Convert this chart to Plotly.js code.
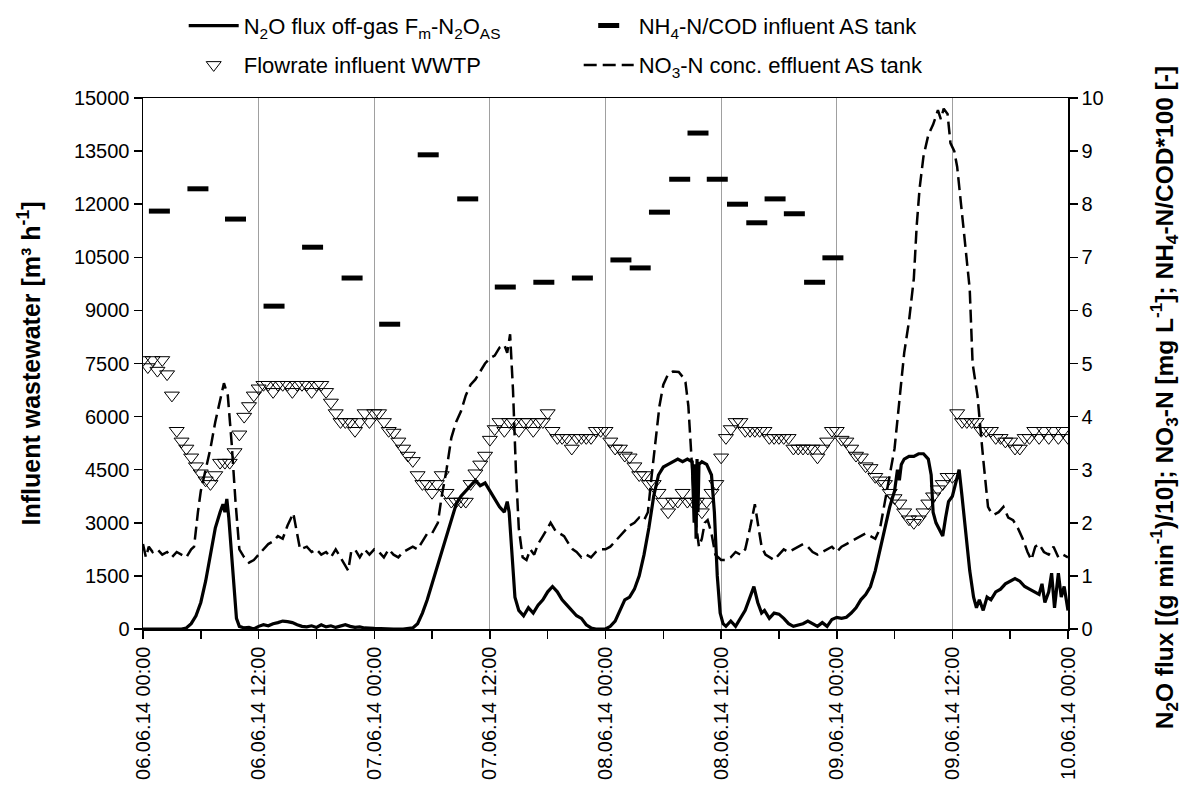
<!DOCTYPE html>
<html>
<head>
<meta charset="utf-8">
<script src="https://cdn.plot.ly/plotly-3.0.1.min.js"></script>
<style>html,body{margin:0;padding:0;background:#fff;}#chart{width:1184px;height:790px;}</style>
</head>
<body>
<div id="chart"></div>
<script>
// ---- x tick labels (hours since 06.06.14 00:00) ----
var tickHours = [0, 12, 24, 36, 48, 60, 72, 84, 96];
var tickLabels = ["06.06.14 00:00", "06.06.14 12:00", "07.06.14 00:00", "07.06.14 12:00",
  "08.06.14 00:00", "08.06.14 12:00", "09.06.14 00:00", "09.06.14 12:00", "10.06.14 00:00"];
var leftTicks = [0, 1500, 3000, 4500, 6000, 7500, 9000, 10500, 12000, 13500, 15000];
var leftTickLabels = ["0", "1500", "3000", "4500", "6000", "7500", "9000", "10500", "12000", "13500", "15000"];
var rightTicks = [0, 1, 2, 3, 4, 5, 6, 7, 8, 9, 10];

// ---- Flowrate influent WWTP [m3/h], one value every 30 min from 06.06.14 00:00 ----
var flowStepHours = 0.5;
var flowrate = [
  7600, 7400, 7600, 7300, 7600, 7200,
  6600, 5600,
  5300, 5100, 4850, 4600, 4400, 4200, 4100,
  4350, 4700, 4700, 4700, 5000, 5500, 6000, 6300, 6600, 6800,
  6900, 6900, 6700, 6900, 6900, 6900, 6700, 6900, 6900, 6900, 6700, 6900, 6900,
  6700, 6400, 6100, 5850, 5850, 5850, 5600, 5850, 6100, 5850, 6100, 6100, 5850, 5600,
  5550, 5300, 5100, 4900, 4750, 4350, 4100, 4100, 3850, 4100, 4350, 3850, 3600, 3600, 3600, 3600,
  4100, 4400, 4650, 4900, 5350, 5650, 5850, 5600, 5850, 5850, 5600, 5850, 5850, 5600, 5850, 5850, 6100,
  5600, 5400, 5400, 5400, 5100, 5400, 5400, 5400, 5400, 5600, 5600, 5600,
  5300, 5100, 5100, 4900, 4850, 4600, 4350, 4350, 4100, 4100, 3850, 3600,
  3300, 3600, 3600, 3850, 3600, 3600, 3600, 3300, 3600, 3850, 4100,
  4850, 5400, 5650, 5850, 5850, 5600, 5600, 5600, 5600, 5600, 5400, 5400, 5400,
  5400, 5400, 5100, 5100, 5100, 5100, 5100, 4850, 5100, 5300, 5600, 5600,
  5350, 5300, 5100, 4900, 4850, 4600, 4550, 4300, 4200, 4100, 3850, 3700,
  3550, 3300, 3100, 3000, 3100, 3300, 3550, 3750, 3950, 4100, 4300, 4300,
  6100, 5850, 5850, 5850, 5850, 5600, 5600, 5600, 5400, 5400, 5300, 5300,
  5100, 5100, 5400, 5400, 5600, 5400, 5600, 5400, 5600, 5400, 5600, 5400
];

// ---- N2O flux off-gas [(g/min)/10] ----
var n2oHours = [0,4,4.5,5,5.5,6,6.5,7,7.5,8,8.3,8.5,8.7,8.9,9.1,9.3,9.5,9.7,10,10.5,11,11.5,12,12.5,13,13.5,14,14.5,15,15.5,16,16.5,17,17.5,18,18.5,19,19.5,20,20.5,21,21.5,22,22.5,23,24,25,26,27,28,28.5,29,29.5,30,30.5,31,31.5,32,32.5,33,33.5,34,34.5,35,35.5,36,36.5,37,37.5,37.8,38,38.3,38.6,39,39.5,40,40.5,41,41.5,42,42.5,43,43.5,44,44.5,45,45.5,46,46.5,47,48,48.5,49,49.5,50,50.5,51,51.5,52,52.5,53,53.5,54,54.5,55,55.5,56,56.5,57,57.2,57.3,57.4,57.5,57.6,57.7,58,58.5,59,59.3,59.6,59.9,60.2,60.5,61,61.5,62,62.5,63,63.4,63.8,64.2,64.5,65,65.5,66,66.5,67,67.5,68,68.5,69,69.5,70,70.5,71,71.5,72,72.5,73,73.5,74,74.5,75,75.5,76,76.5,77,77.5,78,78.3,78.5,78.7,79,79.5,80,80.5,81,81.5,81.8,82,82.3,82.6,83,83.3,83.6,84,84.4,84.7,85,85.4,85.8,86.2,86.5,86.8,87.2,87.6,88,88.5,89,89.5,90,90.5,91,91.5,92,92.5,93,93.3,93.6,94,94.3,94.6,95,95.3,95.6,96];
var n2oFlux = [0,0,0.02,0.1,0.25,0.5,0.9,1.4,1.9,2.2,2.35,2.2,2.45,2.1,1.6,1.0,0.5,0.2,0.05,0.02,0.03,0.0,0.05,0.08,0.06,0.1,0.12,0.15,0.14,0.12,0.08,0.05,0.04,0.06,0.03,0.08,0.04,0.06,0.03,0.05,0.08,0.05,0.03,0.04,0.02,0.01,0,0,0,0.02,0.1,0.3,0.55,0.85,1.15,1.45,1.8,2.1,2.35,2.5,2.6,2.7,2.8,2.7,2.75,2.6,2.45,2.3,2.2,2.4,2.2,1.4,0.6,0.35,0.25,0.4,0.3,0.45,0.55,0.7,0.8,0.7,0.55,0.45,0.35,0.25,0.2,0.08,0.02,0,0,0.05,0.15,0.35,0.55,0.6,0.75,1.0,1.4,1.9,2.5,2.9,3.05,3.1,3.15,3.2,3.15,3.2,3.15,2.0,3.1,1.7,3.2,2.2,3.1,3.15,3.1,2.9,2.2,1.0,0.3,0.1,0.05,0.15,0.05,0.2,0.35,0.6,0.8,0.5,0.3,0.35,0.2,0.3,0.28,0.2,0.1,0.05,0.08,0.1,0.15,0.1,0.05,0.12,0.05,0.18,0.22,0.2,0.22,0.3,0.4,0.55,0.65,0.8,1.1,1.5,1.9,2.3,2.6,3.0,2.8,3.1,3.2,3.25,3.25,3.3,3.3,3.2,2.9,2.2,2.0,1.9,1.75,2.1,2.4,2.5,2.8,3.0,2.5,1.8,1.1,0.6,0.4,0.55,0.35,0.6,0.55,0.7,0.75,0.85,0.9,0.95,0.9,0.8,0.75,0.7,0.65,0.85,0.5,0.7,1.05,0.4,1.05,0.6,0.8,0.35];

// ---- NO3-N conc. effluent AS tank [mg/L] ----
var no3Hours = [0,0.3,0.6,1,1.5,2,2.5,3,3.5,4,4.5,5,5.3,5.7,6,6.5,7,7.5,8,8.4,8.8,9.2,9.6,10,10.5,11,11.5,12,12.5,13,13.5,14,14.5,15,15.6,16,16.3,17,17.5,18,18.5,19,19.5,20,20.5,21,21.3,21.6,22,22.5,23,23.5,24,24.5,25,25.5,26,26.5,27,27.5,28,28.5,29,29.5,30,30.6,31,31.5,32,32.5,33,33.5,34,34.5,35,35.5,36,36.5,37,37.5,37.8,38.1,38.4,38.7,39,39.4,39.8,40.2,40.6,41,41.5,42,42.3,42.8,43.2,43.7,44.2,44.6,45,45.5,46,46.5,47,47.5,48,48.5,49,49.5,50,50.5,51,51.5,52,52.4,52.8,53.2,53.6,54,54.5,55,55.6,56,56.3,56.6,56.9,57.3,57.7,58,58.3,58.6,59,59.4,60,60.5,61,61.5,62,62.5,63,63.5,63.8,64.2,64.6,65,65.5,66,66.5,67,67.5,68,68.5,69,69.5,70,70.5,71,71.5,72,72.5,73,73.5,74,74.5,75,75.5,76,76.5,77,77.5,78,78.5,79,79.5,80,80.3,80.6,81,81.5,82,82.5,82.8,83.1,83.5,83.8,84.2,84.5,85.1,85.8,86.1,86.6,87.2,87.7,88,88.3,88.8,89.3,89.8,90.3,90.8,91.3,91.8,92.2,92.6,93,93.5,94,94.5,95,95.5,96];
var no3Conc = [1.6,1.35,1.55,1.45,1.5,1.4,1.45,1.35,1.45,1.4,1.35,1.5,1.55,2.2,2.6,3.0,3.4,3.9,4.3,4.63,4.4,3.5,2.4,1.5,1.35,1.25,1.3,1.4,1.5,1.6,1.65,1.75,1.7,1.95,2.18,1.8,1.5,1.55,1.45,1.5,1.4,1.45,1.35,1.5,1.35,1.2,1.1,1.45,1.5,1.35,1.5,1.4,1.5,1.45,1.35,1.5,1.4,1.35,1.45,1.5,1.55,1.5,1.65,1.8,1.8,2.0,2.5,3.0,3.6,3.9,4.1,4.4,4.6,4.7,4.85,5.0,5.1,5.15,5.3,5.35,5.2,5.55,4.5,3.0,1.9,1.35,1.3,1.5,1.4,1.6,1.75,1.9,2.0,1.85,1.8,1.75,1.6,1.5,1.45,1.35,1.4,1.35,1.45,1.5,1.5,1.55,1.65,1.75,1.85,1.95,2.0,2.1,2.05,2.2,2.9,3.6,4.2,4.6,4.8,4.85,4.84,4.75,4.65,4.2,3.2,2.1,1.55,1.7,2.0,2.05,1.8,1.4,1.3,1.3,1.35,1.45,1.4,1.5,1.9,2.35,2.0,1.55,1.4,1.35,1.3,1.4,1.5,1.45,1.5,1.55,1.6,1.55,1.45,1.4,1.45,1.5,1.55,1.45,1.55,1.6,1.65,1.7,1.75,1.8,1.75,1.7,1.9,2.4,2.9,3.4,4.3,5.2,5.8,6.6,7.6,8.3,8.9,9.3,9.5,9.77,9.6,9.8,9.7,9.15,9.0,8.7,7.65,6.4,5.0,4.4,3.2,2.3,2.2,2.15,2.2,2.3,2.1,2.05,1.9,1.7,1.45,1.3,1.55,1.6,1.45,1.4,1.55,1.35,1.4,1.35];

// ---- NH4-N/COD influent AS tank (*100) ----
var nh4Hours = [1.7,5.7,9.6,13.6,17.6,21.7,25.6,29.6,33.7,37.6,41.6,45.6,49.6,51.6,53.6,55.7,57.6,59.6,61.7,63.7,65.6,67.6,69.7,71.6];
var nh4Cod = [7.87,8.29,7.72,6.08,7.19,6.61,5.74,8.93,8.10,6.44,6.53,6.61,6.95,6.80,7.85,8.47,9.34,8.47,8.0,7.65,8.1,7.82,6.53,6.99];

var flowHours = flowrate.map(function(v, i){ return i * flowStepHours; });

var FONT = "Liberation Sans, Arial, sans-serif";

var traces = [
  {x: n2oHours, y: n2oFlux, yaxis: 'y2', type: 'scatter', mode: 'lines',
   name: 'N<sub>2</sub>O flux off-gas F<sub>m</sub>-N<sub>2</sub>O<sub>AS</sub>',
   line: {color: '#000', width: 3.2}, legend: 'legend'},
  {x: nh4Hours, y: nh4Cod, yaxis: 'y2', type: 'scatter', mode: 'markers',
   name: 'NH<sub>4</sub>-N/COD influent AS tank',
   marker: {symbol: 'line-ew', size: 15, color: '#000', line: {color: '#000', width: 5}}, legend: 'legend'},
  {x: flowHours, y: flowrate, yaxis: 'y', type: 'scatter', mode: 'markers',
   name: 'Flowrate influent WWTP',
   marker: {symbol: 'triangle-down-open', size: 13, color: '#000', line: {color: '#000', width: 1}}, legend: 'legend2'},
  {x: no3Hours, y: no3Conc, yaxis: 'y2', type: 'scatter', mode: 'lines',
   name: 'NO<sub>3</sub>-N conc. effluent AS tank',
   line: {color: '#000', width: 2.5, dash: '13px,6px'}, legend: 'legend2'}
];

var legendCommon = {orientation: 'h', xanchor: 'left', yanchor: 'middle',
  entrywidth: 330, itemwidth: 50, font: {family: FONT, size: 22, color: '#000'}, bgcolor: 'rgba(0,0,0,0)'};

var layout = {
  width: 1184, height: 790,
  margin: {l: 143, r: 116, t: 98, b: 161, autoexpand: false},
  paper_bgcolor: '#fff', plot_bgcolor: '#fff',
  font: {family: FONT, color: '#000', size: 20},
  showlegend: true,
  legend: Object.assign({}, legendCommon, {x: 0.044, y: 1.136}),
  legend2: Object.assign({}, legendCommon, {x: 0.044, y: 1.062}),
  xaxis: {
    range: [0, 96], tickmode: 'array', tickvals: tickHours, ticktext: tickLabels,
    tickangle: -90, tickfont: {family: FONT, size: 20, color: '#000'},
    ticks: 'outside', ticklen: 8, tickwidth: 1.5, tickcolor: '#000',
    minor: {dtick: 6, tick0: 0, ticks: 'outside', ticklen: 8, tickwidth: 1.5, tickcolor: '#000', showgrid: false},
    showgrid: true, gridcolor: '#a0a0a0', gridwidth: 1,
    showline: true, linecolor: '#000', linewidth: 1.5, mirror: true, zeroline: false
  },
  yaxis: {
    range: [0, 15000], tickmode: 'array', tickvals: leftTicks, ticktext: leftTickLabels,
    tickfont: {family: FONT, size: 20, color: '#000'},
    ticks: 'outside', ticklen: 8, tickwidth: 1.5, tickcolor: '#000',
    showgrid: false, zeroline: false, showline: true, linecolor: '#000', linewidth: 1.5,
    title: {text: '<b>Influent wastewater [m³ h<sup>-1</sup>]</b>', font: {family: FONT, size: 25, color: '#000'}, standoff: 26}
  },
  yaxis2: {
    range: [0, 10], overlaying: 'y', side: 'right', tickmode: 'array', tickvals: rightTicks,
    tickfont: {family: FONT, size: 20, color: '#000'},
    ticks: 'outside', ticklen: 8, tickwidth: 1.5, tickcolor: '#000',
    showgrid: false, zeroline: false, showline: true, linecolor: '#000', linewidth: 1.5
  },
  annotations: [{
    xref: 'paper', yref: 'paper', x: 1.103, y: 0.435, xanchor: 'center', yanchor: 'middle',
    textangle: -90, showarrow: false,
    text: '<b>N<sub>2</sub>O flux [(g min<sup>-1</sup>)/10]; NO<sub>3</sub>-N [mg L<sup>-1</sup>]; NH<sub>4</sub>-N/COD*100 [-]</b>',
    font: {family: FONT, size: 24.5, color: '#000'}
  }]
};

Plotly.newPlot('chart', traces, layout, {displayModeBar: false, staticPlot: true});
</script>
</body>
</html>
